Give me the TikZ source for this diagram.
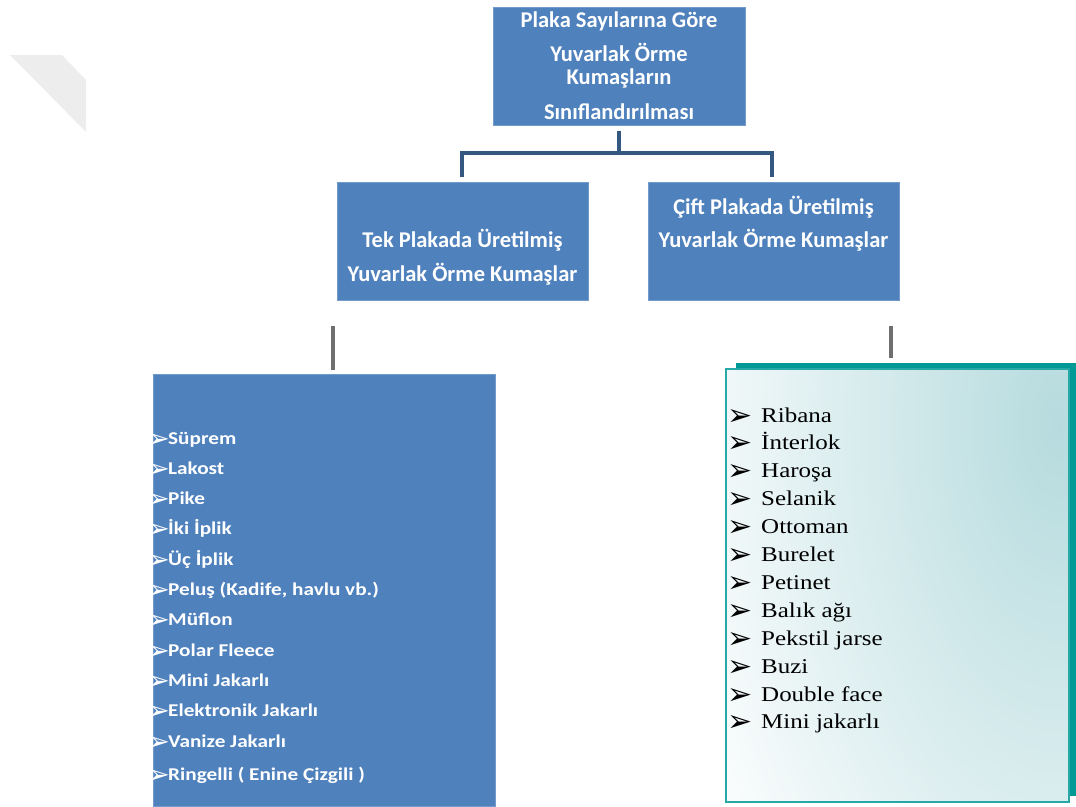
\documentclass[tikz,border=0pt]{standalone}
\usepackage{fontspec}
\setmainfont{Carlito}
\newfontfamily\dejavu{DejaVu Sans}
\newfontfamily\listsans{Carlito}[FakeStretch=1.18]
\newfontfamily\listserif{Liberation Serif}[FakeStretch=1.19]
\usetikzlibrary{shadows}
\definecolor{boxblue}{HTML}{4F81BD}
\definecolor{connblue}{HTML}{34587F}
\definecolor{conngray}{HTML}{6F6F6F}
\definecolor{tealc}{HTML}{009A96}
\definecolor{teallight}{HTML}{B6DBDE}
\definecolor{wmgray}{HTML}{EDEDED}
\tikzset{
  bluebox/.style={fill=boxblue, draw=boxblue!80!white, line width=0.8pt, inner sep=0pt},
  headtext/.style={text=white, align=center, inner sep=0pt,
    font=\bfseries\fontsize{22.5}{23}\selectfont},
  conn/.style={draw=connblue, line width=3.5pt, line join=miter},
  gconn/.style={draw=conngray, line width=4pt},
  leftitem/.style={text=white, inner sep=0pt, anchor=base west,
    font=\listsans\bfseries\fontsize{18}{18}\selectfont},
  rightitem/.style={text=black, inner sep=0pt, anchor=base west,
    font=\listserif\fontsize{21}{21}\selectfont},
  leftbul/.style={text=white, inner sep=0pt, anchor=base west,
    font=\dejavu\fontsize{26}{26}\selectfont},
  rightbul/.style={text=black, inner sep=0pt, anchor=base west,
    font=\dejavu\fontsize{30}{30}\selectfont},
}
\begin{document}
\begin{tikzpicture}[x=1pt,y=-1pt]
\useasboundingbox (0,0) rectangle (1076,806);
% watermark
\fill[wmgray] (10,55) -- (62,55) -- (86,80) -- (86,132) -- cycle;

% top box
\node[bluebox, minimum width=252pt, minimum height=118pt] (root) at (619,66.5) {};
\node[headtext] (rootT) at (619,66) {Plaka Sayılarına Göre\\[11pt]Yuvarlak Örme\\Kumaşların\\[12pt]Sınıflandırılması};

% children
\node[bluebox, minimum width=251pt, minimum height=118pt] (tek) at (462.5,241.5) {};
\node[headtext, font=\bfseries\fontsize{22.5}{34}\selectfont] (tekT) at (462.5,257.5) {Tek Plakada Üretilmiş\\Yuvarlak Örme Kumaşlar};
\node[bluebox, minimum width=251pt, minimum height=118pt] (cift) at (773.5,241.5) {};
\node[headtext, font=\bfseries\fontsize{22.5}{33}\selectfont] (ciftT) at (773.5,224) {Çift Plakada Üretilmiş\\Yuvarlak Örme Kumaşlar};

% connectors
\coordinate (bus) at (619,153);
\draw[conn] ([yshift=-5pt]root.south) -- (bus);
\draw[conn] ([xshift=-0.5pt,yshift=5pt]tek.north) |- (bus) -| ([xshift=-1.5pt,yshift=5pt]cift.north);

% left list box
\node[bluebox, minimum width=342pt, minimum height=432pt] (tekList) at (324,590) {};
% right list box with shadow and gradient
\node[draw=tealc!85!white, line width=1.5pt, fill=white, inner sep=0pt,
      minimum width=343pt, minimum height=433pt,
      drop shadow={shadow xshift=10pt, shadow yshift=6pt, fill=tealc, opacity=1},
      path picture={\shade[inner color=teallight, outer color=white]
         ([xshift=-10pt,yshift=-55pt]path picture bounding box.north east) ellipse (420pt and 760pt);}]
      (ciftList) at (897.5,585.5) {};

% gray connectors
\coordinate (g1) at (333,326);
\coordinate (g2) at (891,326);
\draw[gconn] (g1) -- ([yshift=4pt]g1 |- tekList.north);
\draw[gconn] (g2) -- ([yshift=10pt]g2 |- ciftList.north);

% left items
\foreach \t/\yy [count=\i] in {Süprem/444, Lakost/474.3, Pike/504.6, İki İplik/534.9,
   Üç İplik/565.2, {Peluş (Kadife, havlu vb.)}/595.5, Müflon/625.8, Polar Fleece/656.1,
   Mini Jakarlı/686.4, Elektronik Jakarlı/716.7, Vanize Jakarlı/747, {Ringelli ( Enine Çizgili )}/780}
  {\node[leftbul] (LB\i) at (148,\yy+3) {➢};
   \node[leftitem] (L\i) at (168,\yy) {\t};}

% right items
\foreach \t/\yy [count=\i] in {Ribana/422, İnterlok/449.9, Haroşa/477.8, Selanik/505.7,
   Ottoman/533.6, Burelet/561.5, Petinet/589.4, Balık ağı/617.3, Pekstil jarse/645.2,
   Buzi/673.1, Double face/701, Mini jakarlı/728.9}
  {\node[rightbul] (RB\i) at (727,\yy+3) {➢};
   \node[rightitem] (R\i) at (761,\yy) {\t};}
\end{tikzpicture}
\end{document}
